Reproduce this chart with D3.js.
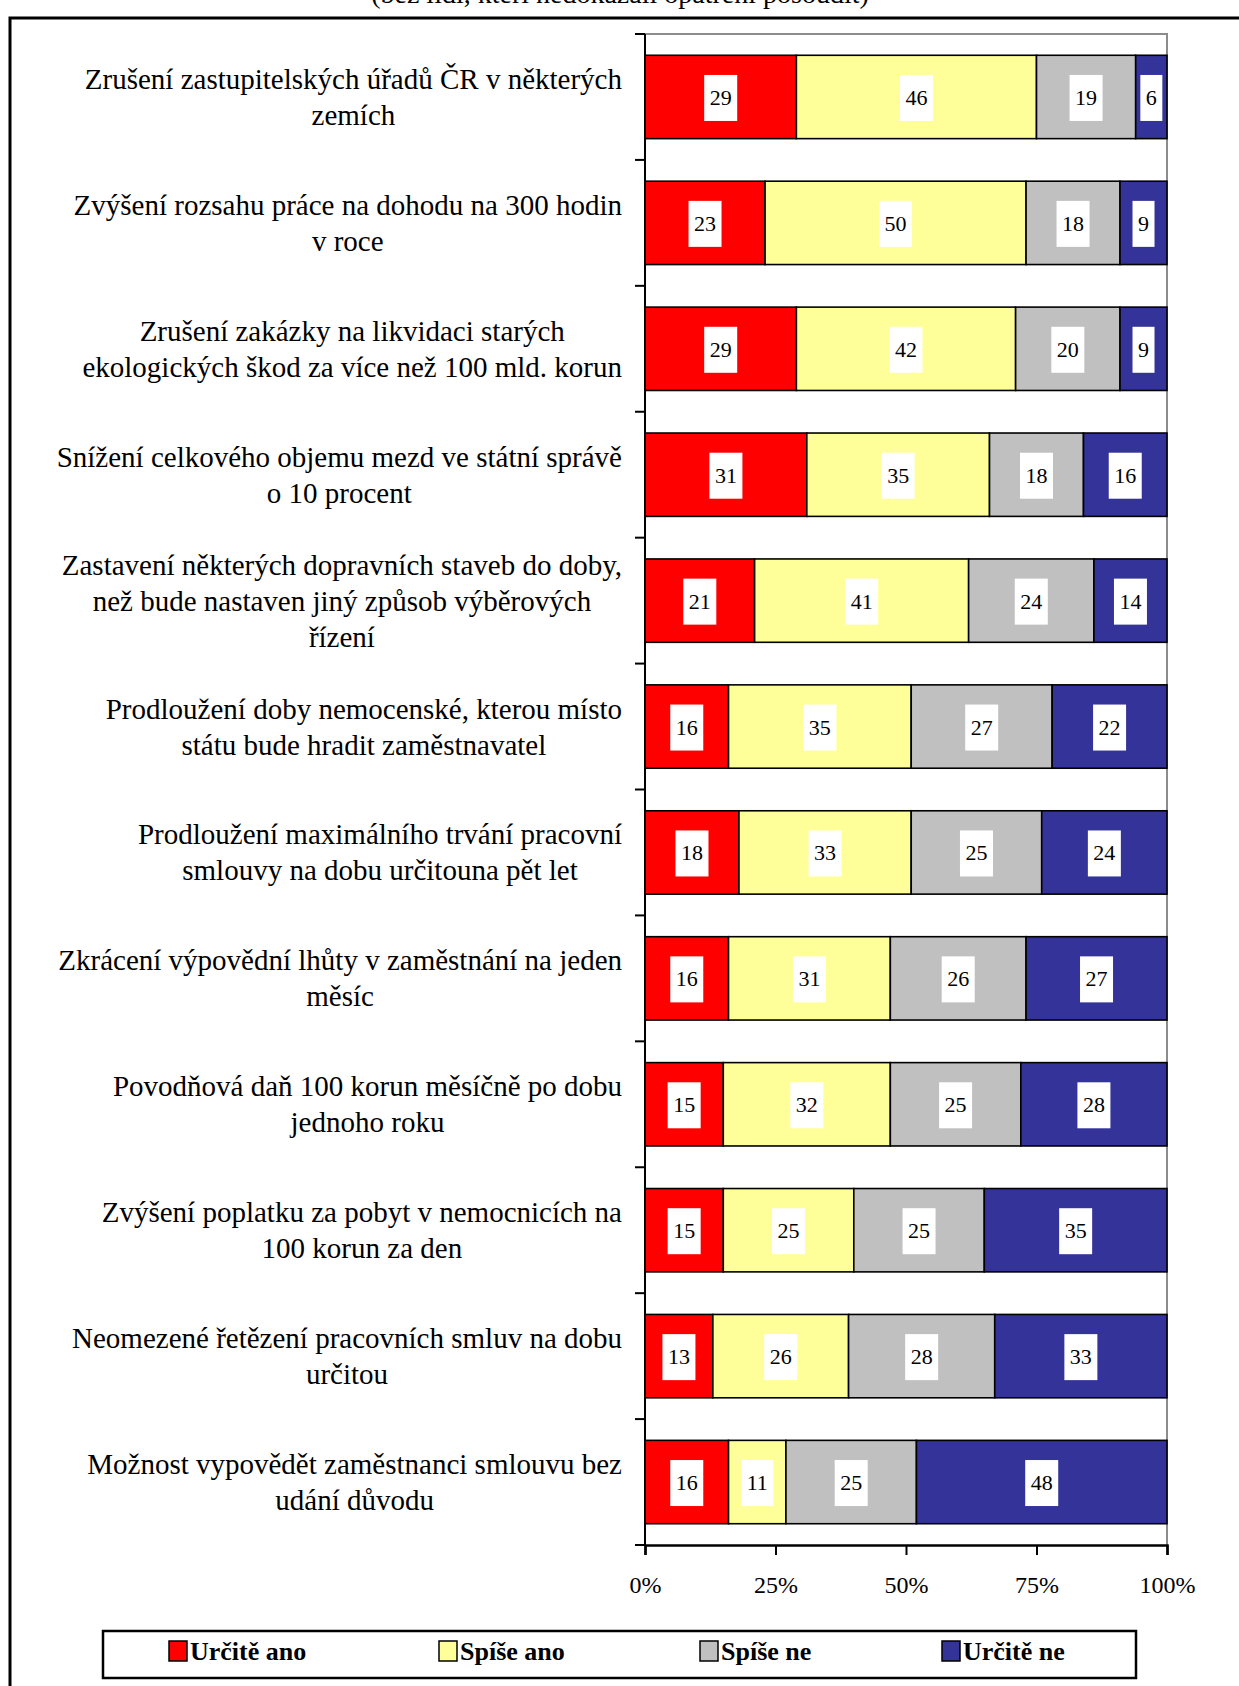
<!DOCTYPE html>
<html>
<head>
<meta charset="utf-8">
<script src="https://cdn.jsdelivr.net/npm/d3@7"></script>
<style>
  body { margin: 0; background: #fff; }
  svg text { font-family: "Liberation Serif", "Times New Roman", serif; }
</style>
</head>
<body>
<div id="chart"></div>
<script>
// data
const categories = [
    ["Zrušení zastupitelských úřadů ČR v některých", "zemích"],
    ["Zvýšení rozsahu práce na dohodu na 300 hodin", "v roce"],
    ["Zrušení zakázky na likvidaci starých", "ekologických škod za více než 100 mld. korun"],
    ["Snížení celkového objemu mezd ve státní správě", "o 10 procent"],
    ["Zastavení některých dopravních staveb do doby,", "než bude nastaven jiný způsob výběrových", "řízení"],
    ["Prodloužení doby nemocenské, kterou místo", "státu bude hradit zaměstnavatel"],
    ["Prodloužení maximálního trvání pracovní", "smlouvy na dobu určitouna pět let"],
    ["Zkrácení výpovědní lhůty v zaměstnání na jeden", "měsíc"],
    ["Povodňová daň 100 korun měsíčně po dobu", "jednoho roku"],
    ["Zvýšení poplatku za pobyt v nemocnicích na", "100 korun za den"],
    ["Neomezené řetězení pracovních smluv na dobu", "určitou"],
    ["Možnost vypovědět zaměstnanci smlouvu bez", "udání důvodu"]
];
const seriesNames = ["Určitě ano", "Spíše ano", "Spíše ne", "Určitě ne"];
const urciteAno = [29, 23, 29, 31, 21, 16, 18, 16, 15, 15, 13, 16];
const spiseAno  = [46, 50, 42, 35, 41, 35, 33, 31, 32, 25, 26, 11];
const spiseNe   = [19, 18, 20, 18, 24, 27, 25, 26, 25, 25, 28, 25];
const urciteNe  = [ 6,  9,  9, 16, 14, 22, 24, 27, 28, 35, 33, 48];
const xTicks = [0, 25, 50, 75, 100];
const titleText = "(bez lidí, kteří nedokázali opatření posoudit)";

const colors = ["#ff0000", "#ffff99", "#c0c0c0", "#333399"];

const width = 1239, height = 1686;
const plot = {left: 645, right: 1167, top: 34, bottom: 1545};

const svg = d3.select("#chart").append("svg")
    .attr("width", width)
    .attr("height", height);

// title, only its lower part shows at the top edge like in the original
svg.append("text")
    .attr("x", 620).attr("y", 3)
    .attr("text-anchor", "middle")
    .style("font-size", "28px")
    .text(titleText);

// outer frame
svg.append("rect")
    .attr("x", 10).attr("y", 18)
    .attr("width", 1300).attr("height", 1800)
    .attr("fill", "none")
    .attr("stroke", "#000")
    .attr("stroke-width", 3);

const x = d3.scaleLinear().domain([0, 100]).range([plot.left, plot.right]);
const y = d3.scaleBand().domain(d3.range(categories.length))
    .range([plot.top, plot.bottom])
    .paddingInner(0.338).paddingOuter(0.169);
const yEdges = d3.scaleLinear().domain([0, categories.length]).range([plot.top, plot.bottom]);

// plot border (top and right gray)
svg.append("path")
    .attr("d", "M" + plot.left + "," + plot.top + "H" + plot.right + "V" + plot.bottom)
    .attr("fill", "none")
    .attr("stroke", "#8c8c8c")
    .attr("stroke-width", 2);

// stack rows
const rows = categories.map(function(c, i) {
    return {i: i, ano: urciteAno[i], sano: spiseAno[i], sne: spiseNe[i], ne: urciteNe[i]};
});
const stack = d3.stack().keys(["ano", "sano", "sne", "ne"])(rows);

const layer = svg.selectAll(".layer")
    .data(stack)
    .enter().append("g")
    .attr("class", "layer")
    .attr("fill", function(d, k) { return colors[k]; });

layer.selectAll("rect")
    .data(function(d) { return d; })
    .enter().append("rect")
    .attr("x", function(d) { return x(d[0]); })
    .attr("y", function(d) { return y(d.data.i); })
    .attr("width", function(d) { return x(d[1]) - x(d[0]); })
    .attr("height", y.bandwidth())
    .attr("stroke", "#000")
    .attr("stroke-width", 1.6);

// value labels in white boxes
const lab = layer.selectAll(".val")
    .data(function(d) { return d; })
    .enter().append("g")
    .attr("class", "val")
    .attr("transform", function(d) {
        return "translate(" + (x(d[0]) + x(d[1])) / 2 + "," + (y(d.data.i) + y.bandwidth() / 2) + ")";
    });
lab.append("text")
    .attr("text-anchor", "middle")
    .attr("y", 8)
    .attr("fill", "#000")
    .style("font-size", "22px")
    .text(function(d) { return d[1] - d[0]; });
lab.each(function() {
    const g = d3.select(this);
    const w = g.select("text").node().getComputedTextLength();
    g.insert("rect", "text")
        .attr("x", -w / 2 - 5.5).attr("y", -22)
        .attr("width", w + 11).attr("height", 46)
        .attr("fill", "#fff");
});

// y axis with ticks at band edges
svg.append("line")
    .attr("x1", plot.left).attr("x2", plot.left)
    .attr("y1", plot.top).attr("y2", plot.bottom)
    .attr("stroke", "#000").attr("stroke-width", 2);
svg.selectAll(".ytick")
    .data(d3.range(categories.length + 1))
    .enter().append("line")
    .attr("x1", plot.left - 10).attr("x2", plot.left)
    .attr("y1", function(d) { return yEdges(d); })
    .attr("y2", function(d) { return yEdges(d); })
    .attr("stroke", "#000").attr("stroke-width", 2);

// x axis
const xAxis = svg.append("g")
    .attr("transform", "translate(0," + plot.bottom + ")")
    .call(d3.axisBottom(x).tickValues(xTicks).tickSize(10).tickPadding(21)
        .tickFormat(function(d) { return d + "%"; }));
xAxis.select(".domain").attr("stroke-width", 2.5);
xAxis.selectAll(".tick line").attr("stroke-width", 2);
xAxis.selectAll("text")
    .attr("fill", "#000")
    .style("font-size", "24px")
    .style("font-family", "'Liberation Serif', serif");

// category labels: block right-aligned, lines centred within it
const labelRight = 622, lineH = 36;
const cat = svg.selectAll(".cat")
    .data(categories)
    .enter().append("g")
    .attr("class", "cat");
cat.each(function(lines, i) {
    const g = d3.select(this);
    const cy = y(i) + y.bandwidth() / 2;
    const t = g.selectAll("text")
        .data(lines)
        .enter().append("text")
        .attr("text-anchor", "middle")
        .attr("y", function(d, j) { return cy + (j - (lines.length - 1) / 2) * lineH + 10; })
        .style("font-size", "29px")
        .text(function(d) { return d; });
    let maxW = 0;
    t.each(function() { maxW = Math.max(maxW, this.getComputedTextLength()); });
    t.attr("x", labelRight - maxW / 2);
});

// legend
svg.append("rect")
    .attr("x", 103).attr("y", 1631)
    .attr("width", 1033).attr("height", 47)
    .attr("fill", "#fff")
    .attr("stroke", "#000")
    .attr("stroke-width", 2.5);
const legX = [169, 439, 700, 942];
const leg = svg.selectAll(".leg")
    .data(seriesNames)
    .enter().append("g")
    .attr("class", "leg")
    .attr("transform", function(d, i) { return "translate(" + legX[i] + ",1641)"; });
leg.append("rect")
    .attr("width", 18).attr("height", 20)
    .attr("fill", function(d, i) { return colors[i]; })
    .attr("stroke", "#000").attr("stroke-width", 1.5);
leg.append("text")
    .attr("x", 21).attr("y", 19)
    .style("font-size", "26px")
    .style("font-weight", "bold")
    .text(function(d) { return d; });
</script>
</body>
</html>
